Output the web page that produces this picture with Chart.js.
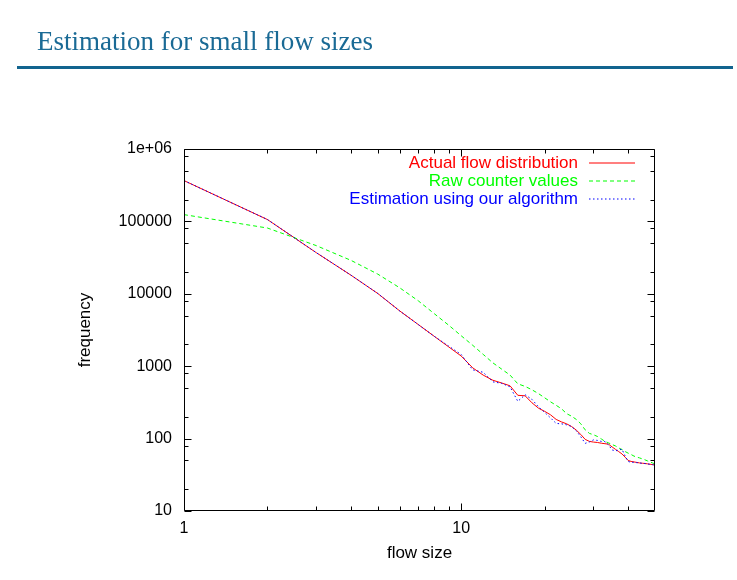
<!DOCTYPE html>
<html><head><meta charset="utf-8">
<script src="https://cdn.jsdelivr.net/npm/chart.js@4"></script>
<style>
html,body{margin:0;padding:0;background:#fff;}
#wrap{position:relative;width:737px;height:580px;overflow:hidden;background:#fff;}
#title{position:absolute;left:37px;top:28px;font-family:"Liberation Serif","Times New Roman",serif;font-size:27px;line-height:27px;color:#1a6a95;white-space:nowrap;}
#rule{position:absolute;left:17px;top:66px;width:716px;height:3px;background:#12648f;}
canvas{position:absolute;left:0;top:0;}
</style></head><body>
<div id="wrap"><canvas id="c" width="737" height="580"></canvas><div id="title">Estimation for small flow sizes</div><div id="rule"></div></div>
<script>
const flowSizes = [1,2,3,4,5,6,7,8,9,10,11,12,13,14,15,16,17,18,19,20,21,22,23,24,25,26,27,28,29,30,31,32,33,34,35,36,37,38,39,40,41,42,43,44,45,46,47,48,49,50];
const actualFlow = [366000,106000,37000,18100,10100,5800,3760,2580,1855,1380,950,753,640,586,536,396,390,312,263,238,213,184,170,160,147,131,114,97.5,91.5,89.5,88.4,86.4,85,83.7,76.8,71.1,66.1,61.4,55.5,49.9,48.4,47.6,46.9,46.1,45.7,45.3,44.8,44.2,43.8,43.0];
const rawCounter = [124000,81000,46300,29000,18700,12100,8000,5300,3700,2630,1945,1456,1114,910,754,571,526,472,418,366,322,288,258,221,204,184,160,132,118,113,107,99,91.5,87.3,82.8,79.2,74.3,70.6,66.3,63,60.3,57.3,55.5,54.1,52.4,50.9,49.2,47.6,46.1,44.7];
const estimated = [366000,106000,37000,18100,10100,5800,3760,2580,1900,1450,891,824,608,580,519,327,403,348,274,230,193,162,160,155,147,128,106,86,90,96,94.4,91.5,91,81.8,69.8,67.6,69.8,71.3,57.7,48.4,46.9,47.2,46.5,46.1,45.5,45.3,44.6,44.2,43.6,43.0];
const seriesLabels = ['Actual flow distribution','Raw counter values','Estimation using our algorithm'];
const seriesColors = ['#ff0000','#00ff00','#0000ff'];
const xTickValues = [1,10];
const xTickLabels = ['1','10'];
const xMinorTicks = [2,3,4,5,6,7,8,9,20,30,40];
const yTickValues = [10,100,1000,10000,100000,1000000];
const yTickLabels = ['10','100','1000','10000','100000','1e+06'];
const yMinorTicks = [20,50,80,200,500,800,2000,5000,8000,20000,50000,80000,200000,500000,800000];

const toPoints = ys => flowSizes.map((x,i)=>({x:x, y:ys[i]}));
const SANS = '"Liberation Sans", Arial, Helvetica, sans-serif';

const framePlugin = {
  id:'frame',
  afterDraw(chart){
    const ctx = chart.ctx, a = chart.chartArea;
    const xs = chart.scales.x, ys = chart.scales.y;
    ctx.save();
    ctx.strokeStyle = '#000';
    ctx.lineWidth = 1;
    ctx.setLineDash([]);
    const L = Math.round(a.left)+0.5, R = Math.round(a.right)-0.5, T = Math.round(a.top)+0.5, B = Math.round(a.bottom)-0.5;
    ctx.beginPath();
    ctx.rect(L, T, R-L, B-T);
    ctx.stroke();
    ctx.beginPath();
    const xt = (v,len)=>{const p=Math.round(xs.getPixelForValue(v))+0.5; ctx.moveTo(p,B); ctx.lineTo(p,B-len); ctx.moveTo(p,T); ctx.lineTo(p,T+len);};
    const yt = (v,len)=>{const p=Math.round(ys.getPixelForValue(v))+0.5; ctx.moveTo(L,p); ctx.lineTo(L+len,p); ctx.moveTo(R,p); ctx.lineTo(R-len,p);};
    xTickValues.forEach(v=>xt(v,7));
    xMinorTicks.forEach(v=>xt(v,4));
    yTickValues.forEach(v=>yt(v,7));
    yMinorTicks.forEach(v=>yt(v,4));
    ctx.stroke();
    ctx.restore();
    // legend
    chart.data.datasets.forEach((ds,i)=>{
      const y = a.top + 14 + i*18;
      const col = seriesColors[i];
      ctx.save();
      ctx.font = '17px ' + SANS;
      ctx.textAlign = 'right';
      ctx.textBaseline = 'middle';
      ctx.fillStyle = col;
      ctx.fillText(ds.label, a.right - 77, y);
      ctx.strokeStyle = col;
      ctx.lineWidth = 1.2;
      ctx.setLineDash(ds.borderDash || []);
      ctx.beginPath();
      ctx.moveTo(a.right - 66, y);
      ctx.lineTo(a.right - 20, y);
      ctx.stroke();
      ctx.restore();
    });
  }
};

new Chart(document.getElementById('c'), {
  type:'line',
  data:{
    datasets:[
      {label:seriesLabels[0], data:toPoints(actualFlow), borderColor:seriesColors[0], borderWidth:1, pointRadius:0, tension:0, order:3},
      {label:seriesLabels[1], data:toPoints(rawCounter), borderColor:seriesColors[1], borderWidth:1, borderDash:[4,3], pointRadius:0, tension:0, order:2},
      {label:seriesLabels[2], data:toPoints(estimated), borderColor:seriesColors[2], borderWidth:1, borderDash:[1.5,2.5], pointRadius:0, tension:0, order:1}
    ]
  },
  options:{
    responsive:false,
    animation:false,
    devicePixelRatio:1,
    layout:{padding:{top:149, right:82, left:0, bottom:0}},
    plugins:{legend:{display:false}, tooltip:{enabled:false}, title:{display:false}},
    scales:{
      x:{
        type:'logarithmic', min:1, max:50,
        grid:{display:false, drawTicks:false},
        border:{display:false},
        afterBuildTicks:s=>{s.ticks = xTickValues.map(v=>({value:v}));},
        afterFit:s=>{s.height = 69;},
        ticks:{autoSkip:false, maxRotation:0, padding:8, color:'#000', font:{family:SANS, size:16},
          callback:(v,i)=>xTickLabels[i]},
        title:{display:true, text:'flow size', color:'#000', font:{family:SANS, size:17}, padding:{top:0,bottom:16}}
      },
      y:{
        type:'logarithmic', min:10, max:1000000,
        grid:{display:false, drawTicks:false},
        border:{display:false},
        afterBuildTicks:s=>{s.ticks = yTickValues.map(v=>({value:v}));},
        afterFit:s=>{s.width = 184;},
        ticks:{autoSkip:false, padding:12, color:'#000', font:{family:SANS, size:16},
          callback:(v,i)=>yTickLabels[i]},
        title:{display:true, text:'frequency', color:'#000', font:{family:SANS, size:17}, padding:{top:75,bottom:0}}
      }
    }
  },
  plugins:[framePlugin]
});
</script>
</body></html>
